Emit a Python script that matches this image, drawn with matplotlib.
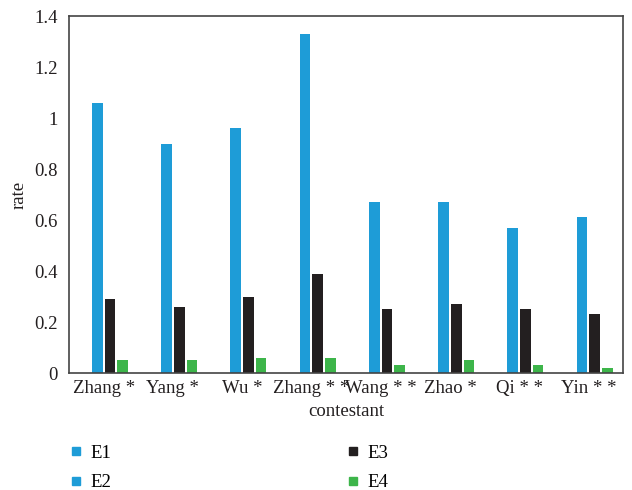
import numpy as np
import matplotlib.pyplot as plt
from matplotlib.lines import Line2D

plt.rcParams['font.family'] = ['Liberation Serif', 'DejaVu Serif']

contestants = ['Zhang *', 'Yang *', 'Wu *', 'Zhang * *', 'Wang * *', 'Zhao *', 'Qi * *', 'Yin * *']
series = ['E1', 'E2', 'E3', 'E4']
e1 = [0, 0, 0, 0, 0, 0, 0, 0]
e2 = [1.06, 0.90, 0.96, 1.33, 0.67, 0.67, 0.57, 0.61]
e3 = [0.29, 0.26, 0.30, 0.39, 0.25, 0.27, 0.25, 0.23]
e4 = [0.05, 0.05, 0.06, 0.06, 0.03, 0.05, 0.03, 0.02]
colors = ['#1E9CD7', '#1E9CD7', '#231F20', '#3DB54A']

fig = plt.figure(figsize=(6.32, 4.9), dpi=100)
ax = fig.add_axes([69 / 632, 1 - 373 / 490, (623 - 69) / 632, (373 - 16) / 490])

x = np.arange(len(contestants))
w = 0.183
for i, (vals, c) in enumerate(zip([e1, e2, e3, e4], colors)):
    ax.bar(x + (i - 1.5) * w, vals, width=w * 0.84, color=c)

ax.set_xlim(-0.5, len(contestants) - 0.5)
ax.set_ylim(0, 1.4)
ax.set_yticks([0, 0.2, 0.4, 0.6, 0.8, 1, 1.2, 1.4])
ax.set_yticklabels(['0', '0.2', '0.4', '0.6', '0.8', '1', '1.2', '1.4'])
ax.set_xticks(x)
ax.set_xticklabels(contestants)
ax.tick_params(length=0, labelsize=13.5, colors='#231F20')
ax.tick_params(axis='y', pad=8)
ax.tick_params(axis='x', pad=5)
for s in ax.spines.values():
    s.set_color('#444444')
    s.set_linewidth(1.2)

ax.set_xlabel('contestant', fontsize=13.5, color='#231F20', labelpad=4)
ax.set_ylabel('rate', fontsize=13.5, color='#231F20', labelpad=5)

handles = [Line2D([], [], marker='s', linestyle='none', markersize=5.5, color=c) for c in colors]
leg_kw = dict(loc='center left', frameon=False, fontsize=13.5, handlelength=0.8,
              handletextpad=0.4, labelspacing=0.65, borderpad=0, borderaxespad=0)
fig.legend(handles[:2], series[:2], bbox_to_anchor=(68 / 632, 1 - 468 / 490), **leg_kw)
fig.legend(handles[2:], series[2:], bbox_to_anchor=(345 / 632, 1 - 468 / 490), **leg_kw)

fig.savefig('out.png', dpi=100)
